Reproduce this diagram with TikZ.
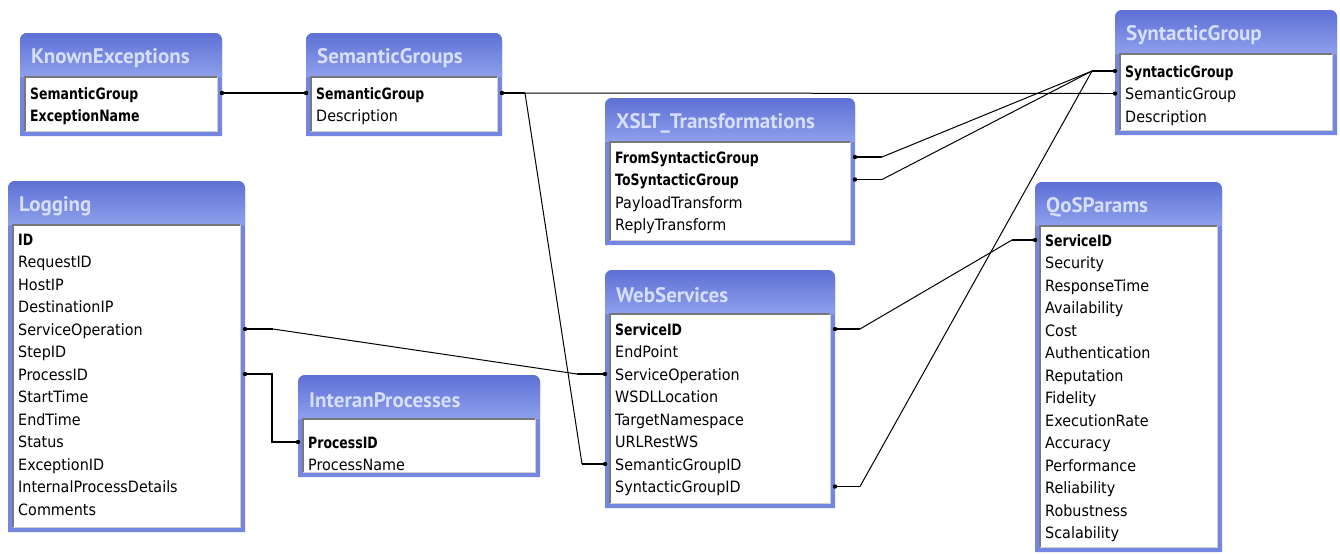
\documentclass[tikz,border=0pt]{standalone}
\usepackage{fontspec}
\setmainfont{DejaVu Sans}[FakeStretch=0.92, BoldFeatures={FakeStretch=0.8}]
\newfontfamily\titlefont{PT Sans}
\usetikzlibrary{arrows.meta,calc}

\definecolor{framecol}{RGB}{116,134,224}
\definecolor{titletop}{RGB}{94,112,212}
\definecolor{titlebot}{RGB}{142,160,236}
\definecolor{titleink}{RGB}{214,223,255}
\definecolor{paneldark}{RGB}{120,120,120}
\definecolor{panellight}{RGB}{205,205,210}

\tikzset{
  x=1pt, y=-1pt,
  tblarea/.style={inner sep=0pt, outer sep=0pt, anchor=north west},
  tbltitle/.style={font=\titlefont\bfseries\fontsize{21}{23}\selectfont,
    text=titleink, anchor=west, inner sep=0pt},
  fieldrow/.style={font=\fontsize{15.6}{17}\selectfont, anchor=west,
    inner sep=0pt, text height=14pt, text depth=2pt},
  link/.style={line width=1pt, black},
  stubline/.style={line width=1.6pt, black},
  enddot/.style={fill=black},
}

% table frame: #1 name, #2 x, #3 top y, #4 width, #5 height, #6 title
\newcommand\ertable[6]{%
  \node[tblarea, minimum width=#4, minimum height=#5] (#1) at (#2,#3) {};
  \fill[framecol] (#1.south west)
    {[rounded corners=7pt] -- (#1.north west) -- (#1.north east)}
    -- (#1.south east) -- cycle;
  \shade[top color=titletop, bottom color=titlebot]
    ([yshift=-44pt]#1.north west)
    {[rounded corners=7pt] -- (#1.north west) -- (#1.north east)}
    -- ([yshift=-44pt]#1.north east) -- cycle;
  \node[tbltitle] (#1-t) at ([xshift=11pt,yshift=-25pt]#1.north west) {#6};
  \fill[white] ([xshift=5pt,yshift=-44pt]#1.north west)
    rectangle ([xshift=-5pt,yshift=5pt]#1.south east);
  \draw[panellight, line width=1pt]
    ([xshift=-5pt,yshift=-44pt]#1.north east)
    -- ([xshift=-5pt,yshift=5pt]#1.south east)
    -- ([xshift=5pt,yshift=5pt]#1.south west);
  \draw[paneldark, line width=1.4pt]
    ([xshift=5pt,yshift=5pt]#1.south west)
    -- ([xshift=5pt,yshift=-44pt]#1.north west)
    -- ([xshift=-5pt,yshift=-44pt]#1.north east);
}

% field rows: #1 table name, #2 text x, #3 first row y, #4 list of fields
\newcommand\erfields[4]{%
  \foreach \f [count=\i] in {#4}
    \node[fieldrow] (#1-r\i) at (#2,{#3+22.5*(\i-1)}) {\f};
}

% thick end stub with a dot on the table edge: #1 edge point, #2 bend point
\newcommand\erstub[2]{%
  \draw[stubline] (#1) -- (#2);
  \fill[enddot] (#1) circle (2.2pt);
}

\begin{document}
\begin{tikzpicture}
\useasboundingbox (0,0) rectangle (1340,554);

% ---------- tables ----------
\ertable{ke}{20}{33}{202}{103}{KnownExceptions}
\erfields{ke}{30}{93}{{\bfseries SemanticGroup},{\bfseries ExceptionName}}

\ertable{sg}{306}{33}{196}{103}{SemanticGroups}
\erfields{sg}{316}{93}{{\bfseries SemanticGroup},Description}

\ertable{syn}{1115}{10}{222}{125}{SyntacticGroup}
\erfields{syn}{1125}{71}{{\bfseries SyntacticGroup},SemanticGroup,Description}

\ertable{xs}{605}{98}{250}{147}{XSLT\_Transformations}
\erfields{xs}{615}{157}{{\bfseries FromSyntacticGroup},{\bfseries ToSyntacticGroup},PayloadTransform,ReplyTransform}

\ertable{log}{8}{181}{237}{351}{Logging}
\erfields{log}{18}{239}{{\bfseries ID},RequestID,HostIP,DestinationIP,ServiceOperation,StepID,ProcessID,StartTime,EndTime,Status,ExceptionID,InternalProcessDetails,Comments}

\ertable{ip}{298}{375}{242}{102}{InteranProcesses}
\erfields{ip}{308}{442}{{\bfseries ProcessID},ProcessName}

\ertable{ws}{605}{270}{230}{238}{WebServices}
\erfields{ws}{615}{329}{{\bfseries ServiceID},EndPoint,ServiceOperation,WSDLLocation,TargetNamespace,URLRestWS,SemanticGroupID,SyntacticGroupID}

\ertable{qos}{1035}{182}{187}{370}{QoSParams}
\erfields{qos}{1045}{240}{{\bfseries ServiceID},Security,ResponseTime,Availability,Cost,Authentication,Reputation,Fidelity,ExecutionRate,Accuracy,Performance,Reliability,Robustness,Scalability}

% ---------- relationship end points ----------
\coordinate (keA) at (ke-r1 -| ke.east);
\coordinate (sgB) at (sg-r1 -| sg.west);
\coordinate (sgA) at (sg-r1 -| sg.east);
\coordinate (sgJ) at ($(sgA)+(23,0)$);
\coordinate (synS) at (syn-r1 -| syn.west);
\coordinate (synSJ) at ($(synS)+(-23,0)$);
\coordinate (synM) at (syn-r2 -| syn.west);
\coordinate (synMJ) at ($(synM)+(-12,0)$);
\coordinate (wsG) at (ws-r7 -| ws.west);
\coordinate (wsGJ) at ($(wsG)+(-23,0)$);
\coordinate (wsO) at (ws-r3 -| ws.west);
\coordinate (wsOJ) at ($(wsO)+(-28,0)$);
\coordinate (logO) at (log-r5 -| log.east);
\coordinate (logOJ) at ($(logO)+(28,0)$);
\coordinate (logP) at (log-r7 -| log.east);
\coordinate (logPJ) at ($(logP)+(27,0)$);
\coordinate (ipP) at (ip-r1 -| ip.west);
\coordinate (ipPJ) at (logPJ |- ipP);
\coordinate (xsF) at (xs-r1 -| xs.east);
\coordinate (xsFJ) at ($(xsF)+(27,0)$);
\coordinate (xsT) at (xs-r2 -| xs.east);
\coordinate (xsTJ) at ($(xsT)+(27,0)$);
\coordinate (wsI) at (ws-r1 -| ws.east);
\coordinate (wsIJ) at ($(wsI)+(25,0)$);
\coordinate (qosI) at (qos-r1 -| qos.west);
\coordinate (qosIJ) at ($(qosI)+(-23,0)$);
\coordinate (wsY) at (ws-r8 -| ws.east);
\coordinate (wsYJ) at ($(wsY)+(25,0)$);

% ---------- relationships ----------
% KnownExceptions -- SemanticGroups
\draw[stubline] (keA) -- (sgB);
\fill[enddot] (keA) circle (2.2pt) (sgB) circle (2.2pt);
% SemanticGroups -- SyntacticGroup
\draw[link] (sgJ) -- (synMJ);
\erstub{sgA}{sgJ}
\erstub{synM}{synMJ}
% SemanticGroups -- WebServices
\draw[link] (sgJ) -- (wsGJ);
\erstub{wsG}{wsGJ}
% Logging -- WebServices
\draw[link] (logOJ) -- (wsOJ);
\erstub{logO}{logOJ}
\erstub{wsO}{wsOJ}
% Logging -- InteranProcesses
\draw[stubline] (logP) -- (logPJ) -- (ipPJ) -- (ipP);
\fill[enddot] (logP) circle (2.2pt) (ipP) circle (2.2pt);
% XSLT_Transformations -- SyntacticGroup
\draw[link] (xsFJ) -- (synSJ);
\draw[link] (xsTJ) -- (synSJ);
\erstub{xsF}{xsFJ}
\erstub{xsT}{xsTJ}
\erstub{synS}{synSJ}
% WebServices -- QoSParams
\draw[link] (wsIJ) -- (qosIJ);
\erstub{wsI}{wsIJ}
\erstub{qosI}{qosIJ}
% WebServices -- SyntacticGroup
\draw[link] (wsYJ) -- (synSJ);
\erstub{wsY}{wsYJ}
\end{tikzpicture}
\end{document}
